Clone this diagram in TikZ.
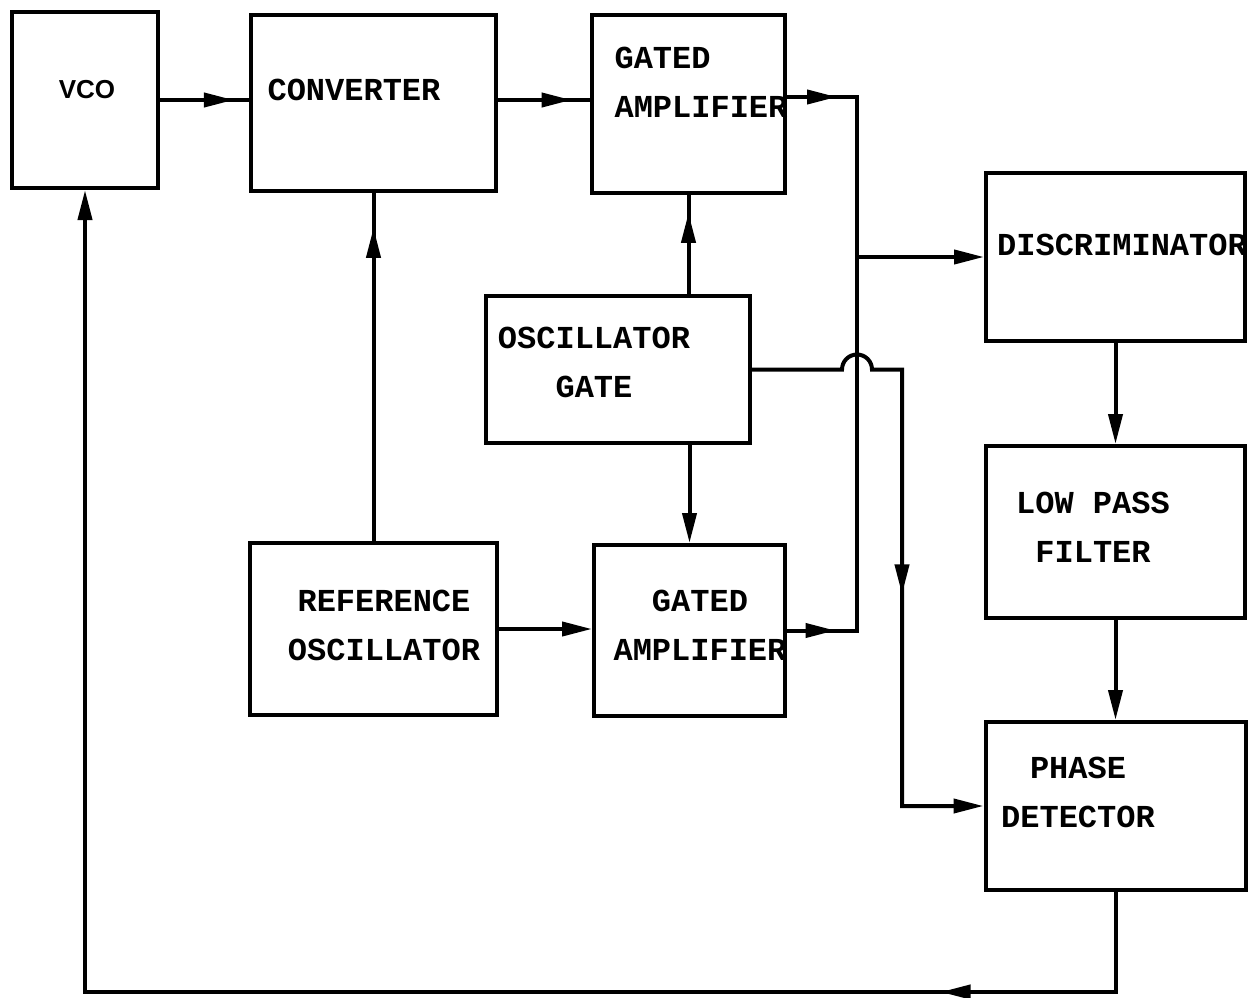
\documentclass[tikz,border=0pt]{standalone}
\usepackage{fontspec}
\setmonofont{Liberation Mono}
\newfontfamily\vcofont{Liberation Sans}
\usetikzlibrary{arrows.meta, positioning, decorations.markings}

\begin{document}
\begin{tikzpicture}[x=0.5pt, y=-0.5pt,
        >={Triangle[length=15pt, width=7pt]},
        blk/.style={draw, line width=2pt, inner sep=0pt},
        lbl/.style={font=\ttfamily\bfseries\fontsize{16}{24.5}\selectfont,
                    align=center, inner sep=0pt},
        conn/.style={line width=2pt},
        tipat/.style={postaction={decorate},
                      decoration={markings, mark=at position #1 with {\arrow{>}}}}
      ]
        \useasboundingbox (0,0) rectangle (1248,997);
        % boxes
        \node[blk, minimum width=73pt, minimum height=88pt] (vco) at (85,100) {};
        \node[blk, minimum width=122.5pt, minimum height=88pt] (conv) at (373.5,103) {};
        \node[blk, minimum width=96.5pt, minimum height=89pt] (ga1) at (688.5,104) {};
        \node[blk, minimum width=129.5pt, minimum height=84pt] (disc) at (1115.5,257) {};
        \node[blk, minimum width=132pt, minimum height=73.5pt] (oscg) at (618,369.5) {};
        \node[blk, minimum width=129.5pt, minimum height=86pt] (lpf) at (1115.5,532) {};
        \node[blk, minimum width=123.5pt, minimum height=86pt] (ref) at (373.5,629) {};
        \node[blk, minimum width=95.5pt, minimum height=85.5pt] (ga2) at (689.5,630.5) {};
        \node[blk, minimum width=130pt, minimum height=84pt] (pd) at (1115.5,806) {};
        % labels
        \node[font=\vcofont\bfseries\fontsize{13}{15}\selectfont] (vcol) at (87,90) {VCO};
        \node[lbl] (convl) at (354,90) {CONVERTER};
        \node[lbl, align=left] (ga1l) at (701,82) {GATED\\AMPLIFIER};
        \node[lbl] (discl) at (1122,245) {DISCRIMINATOR};
        \node[lbl] (oscgl) at (594,362) {OSCILLATOR\\GATE};
        \node[lbl] (lpfl) at (1093,527) {LOW PASS\\FILTER};
        \node[lbl] (refl) at (384,625) {REFERENCE\\OSCILLATOR};
        \node[lbl] (ga2l) at (700,625) {GATED\\AMPLIFIER};
        \node[lbl] (pdl) at (1078,792) {PHASE\\DETECTOR};
        % bus and turning points
        \coordinate (bustop) at ([xshift=35pt, yshift=3.5pt]ga1.east);
        \coordinate (busbot) at ([xshift=35pt]ga2.east);
        \coordinate (gturn) at ([xshift=22.5pt]oscg.east -| bustop);
        \coordinate (fb) at ([yshift=-50pt]pd.south);
        % connectors
        \draw[conn, tipat=0.83] (vco.east) -- (vco.east -| conv.west);
        \draw[conn, tipat=0.8] (conv.east |- vco.east) -- (vco.east -| ga1.west);
        \draw[conn, postaction={decorate},
              decoration={markings, mark=at position 25pt with {\arrow{>}},
                          mark=at position 312.5pt with {\arrowreversed{>}}}]
          ([yshift=3.5pt]ga1.east) -- (bustop) -- (busbot) -- (ga2.east);
        \draw[conn, ->] (bustop |- disc.west) -- (disc.west);
        \draw[conn, tipat=0.82] (oscg.north -| ga1.south) -- (ga1.south);
        \draw[conn, ->] (oscg.south -| ga2.north) -- (ga2.north);
        \draw[conn, tipat=0.9] (ref.north) -- (conv.south);
        \draw[conn, ->] (ref.east) -- (ref.east -| ga2.west);
        \draw[conn, ->, tipat=196pt] (oscg.east) -- ([xshift=-7.5pt]oscg.east -| bustop)
          arc[start angle=180, end angle=0, radius=7.5pt] -- (gturn)
          -- (gturn |- pd.west) -- (pd.west);
        \draw[conn, ->] (disc.south) -- (lpf.north);
        \draw[conn, ->] (lpf.south) -- (pd.north);
        \draw[conn, ->, tipat=137.5pt] (pd.south) -- (fb) -- (fb -| vco.south) -- (vco.south);
      \end{tikzpicture}
\end{document}
